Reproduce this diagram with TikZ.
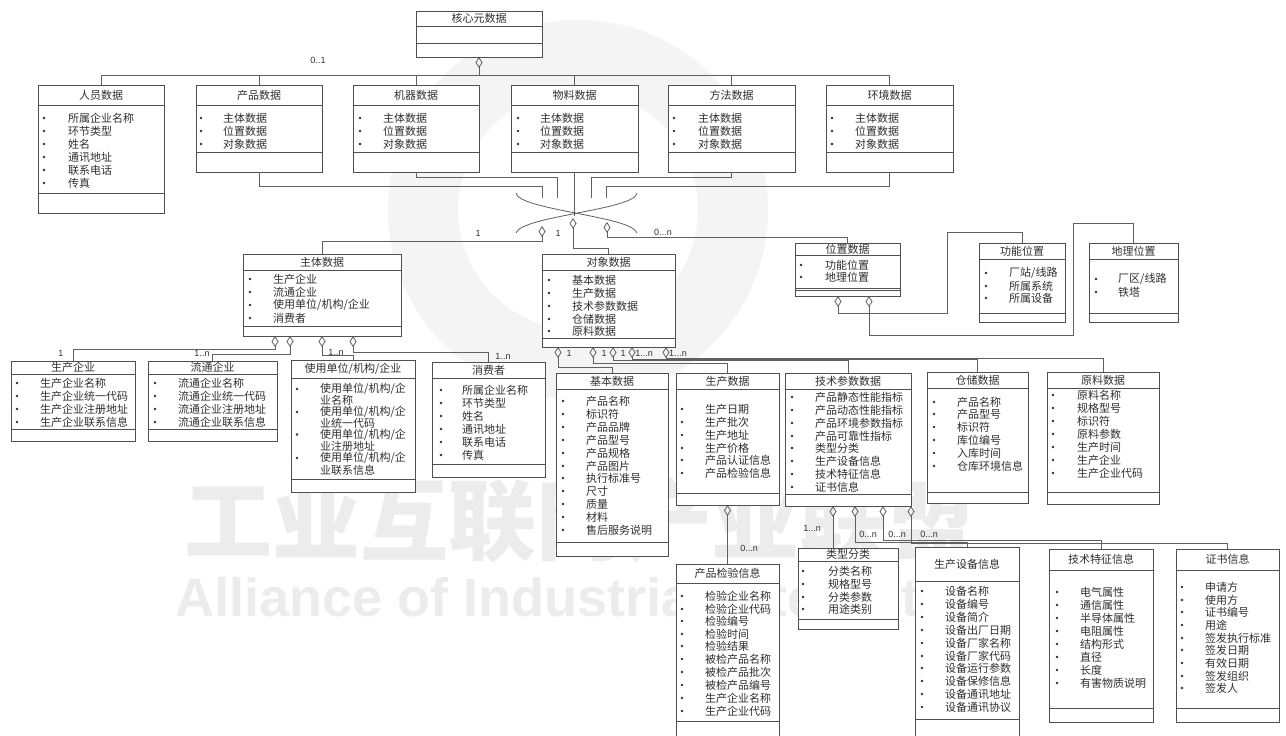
\documentclass[tikz,border=0pt]{standalone}
\usepackage{fontspec}
\newfontfamily\cjk{Noto Sans CJK SC}
\newfontfamily\lab{Liberation Sans}
\usetikzlibrary{arrows.meta}
\definecolor{boxc}{HTML}{505050}
\definecolor{linec}{HTML}{606060}
\definecolor{txt}{HTML}{303030}
\definecolor{wm}{HTML}{ECECEC}
\definecolor{gearc}{HTML}{F4F4F4}
\newcommand\umlbox[8]{%
  \node[box, minimum width={(#4-#2)*1pt}, minimum height={(#5-#3)*1pt}] (#1) at (#2,#3) {};
  \draw[dline] (#2,#6) -- (#4,#6) (#2,#7) -- (#4,#7);
  \node[ttl] (#1-t) at ({(#2+#4)/2},{(#3+#6)/2}) {#8};
}
\newcommand\itemlist[4]{%
  \foreach \yy/\itext [count=\k] in {#4} {
    \node[bul] (#1-b\k) at (#2,\yy) {};
    \node[itm] (#1-\k) at (#3,\yy) {\itext};
  }}
\begin{document}
\begin{tikzpicture}[x=1pt,y=-1pt,
  box/.style={draw=boxc, fill=white, line width=0.8pt, inner sep=0pt, outer sep=0pt, anchor=north west},
  dline/.style={draw=boxc, line width=0.8pt},
  ttl/.style={font=\cjk\fontsize{11}{12}\selectfont, text=txt, inner sep=0pt},
  itm/.style={font=\cjk\fontsize{11}{12}\selectfont, text=txt, inner sep=0pt, anchor=west},
  bul/.style={circle, fill=txt, inner sep=0pt, minimum size=2.8pt},
  conn/.style={draw=linec, line width=0.8pt},
  agg/.style={conn, {Diamond[open, length=11pt, width=7pt]}-},
  mult/.style={font=\lab\fontsize{9}{10}\selectfont, text=txt, inner sep=0pt},
  wmark/.style={text=wm, inner sep=0pt}
]
\clip (0,0) rectangle (1286,736);
\fill[white] (0,0) rectangle (1286,736);
% watermark
\fill[gearc, even odd rule] (578,210) circle (190) (578,210) circle (120);
\node[wmark, font=\cjk\bfseries\fontsize{88}{90}\selectfont] (wm1) at (580,520) {工业互联网产业联盟};
\node[wmark, anchor=west, font=\lab\bfseries\fontsize{54}{56}\selectfont] (wm2) at (175,597) {Alliance of Industrial Internet};

% ---------- boxes ----------
\umlbox{core}{416}{11}{542}{57}{26}{43}{核心元数据}
\umlbox{ren}{38}{85}{164}{213}{105}{193}{人员数据}
\itemlist{ren}{44}{68}{118/所属企业名称,131/环节类型,144/姓名,157/通讯地址,170/联系电话,183/传真}
\umlbox{prod}{196}{85}{322}{172}{105}{152}{产品数据}
\itemlist{prod}{201}{223}{118/主体数据,131/位置数据,144/对象数据}
\umlbox{mach}{353}{85}{479}{172}{105}{152}{机器数据}
\itemlist{mach}{360}{383}{118/主体数据,131/位置数据,144/对象数据}
\umlbox{mat}{511}{85}{638}{172}{105}{152}{物料数据}
\itemlist{mat}{518}{540}{118/主体数据,131/位置数据,144/对象数据}
\umlbox{meth}{668}{85}{795}{172}{105}{152}{方法数据}
\itemlist{meth}{674}{698}{118/主体数据,131/位置数据,144/对象数据}
\umlbox{env}{826}{85}{953}{172}{105}{152}{环境数据}
\itemlist{env}{832}{855}{118/主体数据,131/位置数据,144/对象数据}

\umlbox{zhuti}{243}{254}{401}{336}{270}{326}{主体数据}
\itemlist{zhuti}{250}{273}{279/生产企业,292/流通企业,305/{使用单位/机构/企业},318/消费者}
\umlbox{duixiang}{542}{254}{675}{347}{270}{338}{对象数据}
\itemlist{duixiang}{549}{572}{280/基本数据,293/生产数据,306/技术参数数据,319/仓储数据,331/原料数据}
\umlbox{weizhi}{795}{243}{900}{296}{255}{288}{位置数据}
\draw[dline] (weizhi.west |- 0,290) -- (weizhi.east |- 0,290);
\itemlist{weizhi}{801}{825}{265/功能位置,277/地理位置}
\umlbox{gnwz}{979}{243}{1065}{322}{259}{313}{功能位置}
\itemlist{gnwz}{986}{1009}{273/{厂站/线路},286/所属系统,298/所属设备}
\umlbox{dlwz}{1089}{243}{1178}{322}{259}{313}{地理位置}
\itemlist{dlwz}{1096}{1118}{279/{厂区/线路},292/铁塔}

\umlbox{scqy}{11}{361}{135}{441}{374}{429}{生产企业}
\itemlist{scqy}{17}{40}{383/生产企业名称,396/生产企业统一代码,409/生产企业注册地址,422/生产企业联系信息}
\umlbox{ltqy}{148}{361}{277}{441}{374}{429}{流通企业}
\itemlist{ltqy}{155}{178}{383/流通企业名称,396/流通企业统一代码,409/流通企业注册地址,422/流通企业联系信息}
\umlbox{sydw}{291}{360}{415}{492}{378}{479}{使用单位/机构/企业}
\foreach \yy [count=\k] in {389,412,434.5,458} \node[bul] (sydw-b\k) at (297,\yy) {};
\node[itm] (sydw-1a) at (320,389) {使用单位/机构/企};
\node[itm] (sydw-1b) at (320,400) {业名称};
\node[itm] (sydw-2a) at (320,412) {使用单位/机构/企};
\node[itm] (sydw-2b) at (320,423) {业统一代码};
\node[itm] (sydw-3a) at (320,434.5) {使用单位/机构/企};
\node[itm] (sydw-3b) at (320,446) {业注册地址};
\node[itm] (sydw-4a) at (320,458) {使用单位/机构/企};
\node[itm] (sydw-4b) at (320,470) {业联系信息};
\umlbox{xfz}{432}{362}{545}{477}{378}{464}{消费者}
\itemlist{xfz}{441}{462}{390/所属企业名称,403/环节类型,416/姓名,429/通讯地址,442/联系电话,455/传真}

\umlbox{jbsj}{556}{373}{668}{556}{389}{542}{基本数据}
\itemlist{jbsj}{563}{586}{401/产品名称,414/标识符,427/产品品牌,440/产品型号,453/产品规格,466/产品图片,478/执行标准号,491/尺寸,504/质量,517/材料,530/售后服务说明}
\umlbox{scsj}{676}{373}{779}{505}{389}{493}{生产数据}
\itemlist{scsj}{682}{705}{409/生产日期,422/生产批次,435/生产地址,448/生产价格,460/产品认证信息,473/产品检验信息}
\umlbox{jscs}{785}{373}{911}{506}{389}{494}{技术参数数据}
\itemlist{jscs}{792}{815}{397/产品静态性能指标,410/产品动态性能指标,423/产品环境参数指标,436/产品可靠性指标,448/类型分类,461/生产设备信息,474/技术特征信息,487/证书信息}
\umlbox{ccsj}{927}{372}{1028}{503}{388}{492}{仓储数据}
\itemlist{ccsj}{934}{957}{402/产品名称,414/产品型号,427/标识符,440/库位编号,453/入库时间,466/仓库环境信息}
\umlbox{ylsj}{1047}{372}{1159}{504}{388}{492}{原料数据}
\itemlist{ylsj}{1053}{1077}{395/原料名称,408/规格型号,421/标识符,434/原料参数,447/生产时间,460/生产企业,473/生产企业代码}

\umlbox{jyxx}{676}{564}{779}{740}{583}{721}{产品检验信息}
\itemlist{jyxx}{682}{705}{596/检验企业名称,609/检验企业代码,621/检验编号,634/检验时间,646/检验结果,659/被检产品名称,672/被检产品批次,685/被检产品编号,698/生产企业名称,711/生产企业代码}
\umlbox{lxfl}{798}{548}{898}{629}{561}{619}{类型分类}
\itemlist{lxfl}{803}{828}{571/分类名称,584/规格型号,597/分类参数,609/用途类别}
\umlbox{scsb}{915}{547}{1019}{740}{581}{719}{生产设备信息}
\itemlist{scsb}{922}{945}{591/设备名称,604/设备编号,617/设备简介,630/设备出厂日期,643/设备厂家名称,656/设备厂家代码,668/设备运行参数,681/设备保修信息,694/设备通讯地址,707/设备通讯协议}
\umlbox{jstz}{1049}{549}{1153}{722}{570}{708}{技术特征信息}
\itemlist{jstz}{1057}{1080}{592/电气属性,605/通信属性,618/半导体属性,631/电阻属性,644/结构形式,657/直径,670/长度,683/有害物质说明}
\umlbox{zsxx}{1176}{549}{1279}{722}{570}{708}{证书信息}
\itemlist{zsxx}{1182}{1205}{587/申请方,600/使用方,612/证书编号,625/用途,638/签发执行标准,650/签发日期,663/有效日期,676/签发组织,688/签发人}

% ---------- connectors ----------
\coordinate (bus) at (479,75);
\draw[agg] (core.south) -- (bus);
\draw[conn] (ren.north) |- (bus) -| (env.north);
\draw[conn] (prod.north) |- (bus);
\draw[conn] (mach.north) |- (bus);
\draw[conn] (mat.north) |- (bus);
\draw[conn] (meth.north) |- (bus);

\coordinate (jp) at (542,198);
\coordinate (jm) at (557,198);
\coordinate (jt) at (574.5,216);
\coordinate (jh) at (591,198);
\coordinate (je) at (606,198);
\draw[conn] (prod.south) |- (542,186) -- (jp);
\draw[conn] (mach.south) |- (557,177) -- (jm);
\draw[conn] (mat.south) -- (jt);
\draw[conn] (meth.south) |- (591,177) -- (jh);
\draw[conn] (env.south) |- (606,186) -- (je);
\draw[conn] (516,193) .. controls (518,210) and (632,216) .. (637,233);
\draw[conn] (637,193) .. controls (635,210) and (521,216) .. (516,233);

\coordinate (d1) at (542,226);
\coordinate (d2) at (573,218);
\coordinate (d3) at (607,222);
\draw[agg] (d1) -- (542,241) -| (zhuti.north);
\draw[agg] (d2) -- (573,248) -| (duixiang.north);
\draw[agg] (d3) -- (607,237) -| (weizhi.north);

\draw[agg] ([xshift=32pt]zhuti.south west) -- ++(0,13) -| (scqy.north);
\draw[agg] ([xshift=47pt]zhuti.south west) -- ++(0,18) -| (ltqy.north);
\draw[agg] ([xshift=79pt]zhuti.south west) -- ++(0,19) -| (sydw.north);
\draw[agg] ([xshift=110pt]zhuti.south west) -- ++(0,16) -| (xfz.north);

\draw[agg] ([xshift=16pt]duixiang.south west) -- ++(0,20) -| (jbsj.north);
\draw[agg] ([xshift=51pt]duixiang.south west) -- ++(0,16) -| (scsj.north);
\draw[agg] ([xshift=71pt]duixiang.south west) -- ++(0,13) -| (jscs.north);
\draw[agg] ([xshift=90pt]duixiang.south west) -- ++(0,12) -| (ccsj.north);
\draw[agg] ([xshift=124pt]duixiang.south west) -- ++(0,11) -| (ylsj.north);

\draw[agg] (scsj.south) -- (jyxx.north);

\draw[agg] ([xshift=48pt]jscs.south west) -- ([xshift=35pt]lxfl.north west);
\draw[agg] ([xshift=70pt]jscs.south west) -- ++(0,36) -| (scsb.north);
\draw[agg] ([xshift=98pt]jscs.south west) -- ++(0,34) -| (jstz.north);
\draw[agg] ([xshift=126pt]jscs.south west) -- ++(0,37) -| (zsxx.north);

\draw[agg] ([xshift=43pt]weizhi.south west) -- ++(0,17) -- (947,313) -- (947,232) -| (gnwz.north);
\draw[agg] ([xshift=74pt]weizhi.south west) -- ++(0,39) -- (1073,335) -- (1073,223) -| (dlwz.north);

% ---------- multiplicities ----------
\node[mult] (m01) at (318,60) {0..1};
\node[mult] (m1) at (478,233) {1};
\node[mult] (m2) at (558,233) {1};
\node[mult] (m3) at (663,232) {0...n};
\node[mult] (m4) at (61,353) {1};
\node[mult] (m5) at (202,353) {1..n};
\node[mult] (m6) at (336,352) {1..n};
\node[mult] (m7) at (503,356) {1..n};
\node[mult] (m8) at (569,353) {1};
\node[mult] (m9) at (604,353) {1};
\node[mult] (m10) at (623,353) {1};
\node[mult] (m11) at (644,353) {1...n};
\node[mult] (m12) at (678,353) {1...n};
\node[mult] (m13) at (749,548) {0...n};
\node[mult] (m14) at (812,528) {1...n};
\node[mult] (m15) at (868,534) {0...n};
\node[mult] (m16) at (897,534) {0...n};
\node[mult] (m17) at (929,534) {0...n};
\end{tikzpicture}
\end{document}
